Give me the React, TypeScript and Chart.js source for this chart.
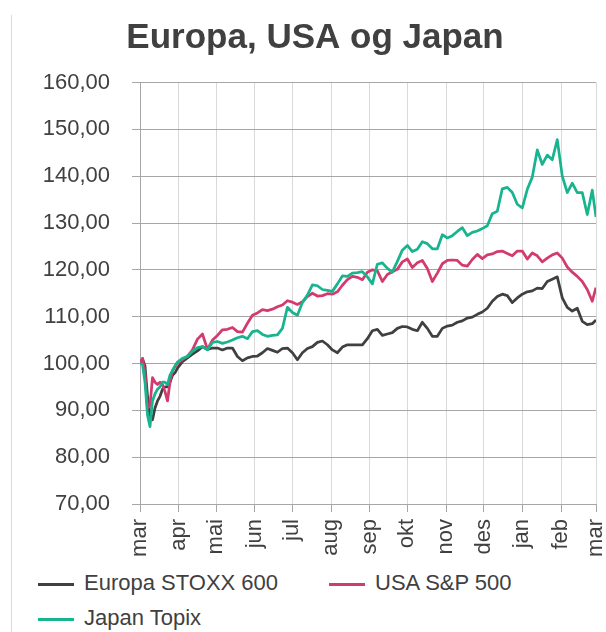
import React, { useEffect, useRef } from "react";
import { Chart, registerables } from "chart.js";

Chart.register(...registerables);

const title = "Europa, USA og Japan";
const monthLabels = ["mar", "apr", "mai", "jun", "jul", "aug", "sep", "okt", "nov", "des", "jan", "feb", "mar"];
const monthDays = [0, 31, 61, 92, 122, 153, 184, 214, 245, 275, 306, 337, 365];
const yTicks = [70, 80, 90, 100, 110, 120, 130, 140, 150, 160];

const days = [
  0, 2, 4, 6, 8, 10, 12, 14, 16, 18, 20, 22, 24, 26, 28, 30,
  34, 38, 42, 46, 50, 54, 58, 62, 66, 70,
  74, 78, 82, 86, 90, 94, 98, 102, 106, 110,
  114, 118, 122, 126, 130, 134, 138, 142, 146, 150,
  154, 158, 162, 166, 170, 174, 178, 182, 186, 190,
  194, 198, 202, 206, 210, 214, 218, 222, 226, 230,
  234, 238, 242, 246, 250, 254, 258, 262, 266, 270,
  274, 278, 282, 286, 290, 294, 298, 302, 306, 310,
  314, 318, 322, 326, 330, 334, 338, 342, 346, 350,
  354, 358, 362, 365,
];

const europa = [
  100, 101, 99.5, 93, 89, 88, 90.5, 92, 93, 94.5, 95, 95, 96, 97.5, 98, 99,
  100.4, 101.2, 102, 102.7, 103.6, 103, 103.3, 103.3, 102.9, 103.3,
  103.3, 101.5, 100.6, 101.2, 101.5, 101.6, 102.3, 103.2, 102.8, 102.4,
  103.2, 103.3, 102.3, 100.8, 102.3, 103.2, 103.6, 104.5, 104.8, 104,
  102.9, 102.3, 103.5, 104, 104, 104, 104, 105.3, 107, 107.3,
  106, 106.3, 106.6, 107.5, 107.9, 107.8, 107.3, 107, 108.8, 107.5,
  105.8, 105.8, 107.5, 108, 108.2, 108.8, 109.1, 109.7, 109.9, 110.5,
  111, 111.8, 113.3, 114.3, 114.8, 114.5, 113, 114, 114.8, 115.3,
  115.5, 116.1, 116, 117.5, 118, 118.5, 114, 112, 111.2, 111.8,
  109, 108.3, 108.5, 109.3,
];

const usa = [
  100, 101.1, 98, 90.5, 91, 97, 96, 95.5, 96, 95.5, 94, 92, 96, 98.5, 99.3, 100,
  100.8, 101.6, 102.9, 105.2, 106.3, 103, 105, 106, 107.2, 107.3,
  107.7, 106.8, 106.7, 108.6, 110.3, 110.8, 111.5, 111.3, 111.6, 112.1,
  112.5, 113.4, 113.1, 112.6, 113.2, 114.3, 115, 114.4, 114.5, 114.9,
  114.8, 115.3, 116.7, 117.9, 118.6, 118.4, 117.9, 119.5, 120, 119.8,
  117.5, 119, 119.6, 120.1, 121.7, 122.3, 120.5, 121.5, 122, 120.3,
  117.5, 119.3, 121.3, 122, 122.1, 122, 121, 120.8, 122.2, 123.3,
  122.4, 123.2, 123.4, 123.9, 124, 123.5, 123, 124, 124, 122.3,
  123.6, 123, 121.7, 122.5, 123.2, 123.6, 122.5, 120.6, 119.5, 118.6,
  117.5, 115.8, 113.3, 116.2,
];

const japan = [
  100, 99.8, 96, 89, 86.5, 92, 93.5, 94.5, 95, 96, 96, 95.5, 97.5, 98.5, 99.5, 100.3,
  101.1, 101.5, 102.6, 103.4, 103.6, 102.9, 104.5, 104.7, 104.3, 104.6,
  105, 105.5, 105.8, 105.3, 106.8, 107, 106.2, 105.8, 106, 106.1,
  107.5, 112, 110.9, 110.3, 113, 114.6, 116.8, 116.6, 115.8, 115.6,
  115.4, 117, 118.7, 118.6, 119.3, 119.4, 119.6, 118.5, 117, 121.2,
  121.5, 120.3, 119.5, 121.8, 124.2, 125.2, 123.9, 124.4, 126, 125.6,
  124.5, 124.5, 127.5, 126.8, 127.3, 128.2, 129, 127.3, 128, 128.3,
  128.8, 129.4, 132, 132.5, 137.3, 137.6, 136.5, 134, 133.2, 137.2,
  139.8, 145.6, 142.5, 144.5, 143.5, 147.8, 140, 136.5, 138.5, 136.5,
  136.5, 131.8, 137, 131.3,
];

const seriesNames = ["Europa STOXX 600", "USA S&P 500", "Japan Topix"];
const seriesColors = ["#404040", "#D33A6E", "#18B48F"];

const FONT = "'Liberation Sans', Arial, Helvetica, sans-serif";
const TEXT = "#404040";

function pts(vals: number[]) {
  return days.map((d, i) => ({ x: d, y: vals[i] }));
}

export default function App() {
  const ref = useRef<HTMLCanvasElement | null>(null);

  useEffect(() => {
    if (!ref.current) return;
    const all = [europa, usa, japan];
    const chart = new Chart(ref.current, {
      type: "line",
      data: {
        datasets: all.map((vals, i) => ({
          label: seriesNames[i],
          data: pts(vals),
          borderColor: seriesColors[i],
          backgroundColor: seriesColors[i],
          borderWidth: 2.75,
          pointRadius: 0,
          tension: 0,
          fill: false,
          borderJoinStyle: "round" as const,
          order: 2 - i,
        })),
      },
      options: {
        responsive: false,
        animation: false,
        devicePixelRatio: 1,
        layout: { padding: { left: 34, right: 10, top: 0, bottom: 0 } },
        plugins: {
          legend: { display: false },
          tooltip: { enabled: false },
          title: {
            display: true,
            text: title,
            color: TEXT,
            font: { family: FONT, size: 35, weight: "bold" },
            padding: { top: 17.5, bottom: 23 },
          },
        },
        scales: {
          x: {
            type: "linear",
            min: 0,
            max: 365,
            afterBuildTicks: (s: any) => {
              s.ticks = monthDays.map((v) => ({ value: v }));
            },
            afterFit: (s: any) => {
              s.height = 66;
              s.paddingLeft = 0;
              s.paddingRight = 0;
            },
            ticks: {
              autoSkip: false,
              minRotation: 90,
              maxRotation: 90,
              padding: 7,
              color: TEXT,
              font: { family: FONT, size: 22 },
              callback: (_v: any, i: number) => monthLabels[i],
            },
            grid: { color: "#d9d9d9", tickColor: "#a6a6a6", tickLength: 8, lineWidth: 1 },
            border: { color: "#a6a6a6", width: 1 },
          },
          y: {
            min: 70,
            max: 160,
            afterBuildTicks: (s: any) => {
              s.ticks = yTicks.map((v) => ({ value: v }));
            },
            afterFit: (s: any) => {
              s.width = 106;
              s.paddingTop = 0;
              s.paddingBottom = 0;
            },
            ticks: {
              padding: 22,
              color: TEXT,
              font: { family: FONT, size: 22 },
              callback: (v: any) => Number(v).toFixed(2).replace(".", ","),
            },
            grid: { color: "#a6a6a6", tickColor: "#a6a6a6", tickLength: 8, lineWidth: 1 },
            border: { color: "#a6a6a6", width: 1 },
          },
        },
      },
    } as any);
    return () => chart.destroy();
  }, []);

  const legendItem = (i: number, left: number, top: number) => (
    <div key={i} style={{ position: "absolute", left, top, height: 36 }}>
      <div
        style={{
          position: "absolute",
          left: 0,
          top: 10,
          width: 36,
          height: 2.5,
          background: seriesColors[i],
        }}
      />
      <div
        style={{
          position: "absolute",
          left: 46,
          top: -1.5,
          whiteSpace: "nowrap",
          fontFamily: FONT,
          fontSize: 22,
          lineHeight: "22px",
          color: TEXT,
        }}
      >
        {seriesNames[i]}
      </div>
    </div>
  );

  return (
    <div style={{ position: "absolute", left: 0, top: 0, width: 606, height: 632, background: "#fff", overflow: "hidden" }}>
      <div style={{ position: "absolute", left: 11, top: 15, width: 1, height: 617, background: "#d9d9d9" }} />
      <canvas ref={ref} width={606} height={570} style={{ position: "absolute", left: 0, top: 0, width: 606, height: 570 }} />
      {legendItem(0, 38, 573)}
      {legendItem(1, 329, 573)}
      {legendItem(2, 38, 608)}
    </div>
  );
}
